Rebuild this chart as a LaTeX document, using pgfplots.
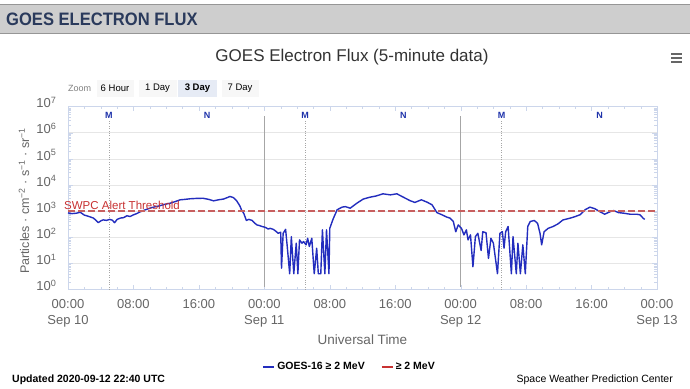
\documentclass[border=0pt]{standalone}
\usepackage{fontspec}
\setmainfont{Liberation Sans}
\usepackage{pgfplots}
\pgfplotsset{compat=1.18}
\definecolor{bannerbg}{RGB}{206,206,206}
\definecolor{bannerline}{RGB}{150,150,150}
\definecolor{bannertext}{RGB}{42,58,92}
\definecolor{txtgray}{RGB}{102,102,102}
\definecolor{seriesblue}{RGB}{35,45,190}
\definecolor{threshred}{RGB}{200,95,95}
\definecolor{labelred}{RGB}{200,50,50}
\definecolor{gridgray}{RGB}{230,230,230}
\definecolor{axisline}{RGB}{204,214,235}
\definecolor{btnbg}{RGB}{247,247,247}
\definecolor{btnsel}{RGB}{230,235,245}
\definecolor{mnblue}{RGB}{30,50,170}
\begin{document}
\begin{tikzpicture}
\path[use as bounding box, fill=white] (0pt,0pt) rectangle (690pt,388pt);
% banner
\fill[bannerbg] (0pt,355pt) rectangle (690pt,383pt);
\draw[bannerline, line width=1pt] (0pt,383pt) -- (690pt,383pt);
\draw[bannerline] (0pt,355pt) -- (690pt,355pt);
\node[anchor=west, inner sep=0pt, text=bannertext] at (6pt,369pt) {\scalebox{0.92}[1]{\fontsize{18}{20}\selectfont\bfseries GOES ELECTRON FLUX}};
% title
\node[text=black!80] at (352pt,331pt) {\fontsize{17}{20}\selectfont GOES Electron Flux (5-minute data)};
% menu
\foreach \yy in {326,330,334} \draw[txtgray, line width=1.5pt] (671pt,\yy pt) -- (682pt,\yy pt);
% zoom buttons
\node[anchor=west, text=black!50, inner sep=0pt] at (68pt,300pt) {\fontsize{9}{10}\selectfont Zoom};
\node[fill=btnbg, minimum width=37pt, minimum height=17pt, inner sep=0pt] at (115pt,299.5pt) {\fontsize{9.5}{10}\selectfont 6 Hour};
\node[fill=btnbg, minimum width=38pt, minimum height=17pt, inner sep=0pt] at (157.5pt,299.5pt) {\fontsize{9.5}{10}\selectfont 1 Day};
\node[fill=btnsel, minimum width=39pt, minimum height=17pt, inner sep=0pt] at (197.5pt,299.5pt) {\fontsize{9.5}{10}\selectfont\bfseries 3 Day};
\node[fill=btnbg, minimum width=37pt, minimum height=17pt, inner sep=0pt] at (240pt,299.5pt) {\fontsize{9.5}{10}\selectfont 7 Day};
% footer
\node[anchor=west, inner sep=0pt] at (12pt,8pt) {\fontsize{10.5}{12}\selectfont\bfseries Updated 2020-09-12 22:40 UTC};
\node[anchor=east, inner sep=0pt] at (673pt,8pt) {\fontsize{10.5}{12}\selectfont Space Weather Prediction Center};

\begin{axis}[
  at={(68pt,98.5pt)}, anchor=south west,
  scale only axis, width=589pt, height=183pt,
  xmin=0, xmax=72, ymode=log, ymin=1, ymax=1e7,
  clip=false,
  axis line style={axisline},
  xtick={0,8,...,72},
  xticklabels={{00:00\\Sep 10},{08:00},{16:00},{00:00\\Sep 11},{08:00},{16:00},{00:00\\Sep 12},{08:00},{16:00},{00:00\\Sep 13}},
  xticklabel style={align=center, font=\fontsize{13}{16}\selectfont, text=txtgray, yshift=-6pt},
  minor x tick num=3,
  ytick={1,10,100,1000,10000,100000,1000000,10000000},
  yticklabels={10\textsuperscript{0},10\textsuperscript{1},10\textsuperscript{2},10\textsuperscript{3},10\textsuperscript{4},10\textsuperscript{5},10\textsuperscript{6},10\textsuperscript{7}},
  yticklabel style={font=\fontsize{13}{15}\selectfont, text=txtgray, xshift=-8pt, yshift=4pt},
  ymajorgrids, major grid style={gridgray},
  tick style={axisline},
  major tick length=5pt, minor tick length=3pt,
  xlabel={Universal Time},
  xlabel style={at={(axis description cs:0.5,-0.273)}, anchor=center, font=\fontsize{13.5}{16}\selectfont, text=txtgray},
  ylabel={Particles · cm\textsuperscript{−2} · s\textsuperscript{−1} · sr\textsuperscript{−1}},
  ylabel style={at={(axis description cs:-0.0747,0.484)}, anchor=center, font=\fontsize{12.5}{15}\selectfont, text=txtgray},
  legend style={at={(0.478,-0.421)}, anchor=center, draw=none, fill=none, font=\fontsize{10.5}{12}\selectfont\bfseries, /tikz/every even column/.append style={column sep=14pt}},
  legend columns=2,
]
% day boundaries
\addplot[black!35, line width=1.4pt, forget plot] coordinates {(24,1.3) (24,4.5e6)};
\addplot[black!35, line width=1.4pt, forget plot] coordinates {(48,1.3) (48,4.5e6)};
% M / N lines
\addplot[black!35, dotted, forget plot] coordinates {(5,1) (5,2.7e6)};
\addplot[black!35, dotted, forget plot] coordinates {(29,1) (29,2.7e6)};
\addplot[black!35, dotted, forget plot] coordinates {(53,1) (53,2.7e6)};
\node[font=\fontsize{9}{10}\selectfont\bfseries, text=mnblue] at (axis cs:5,4.4e6) {M};
\node[font=\fontsize{9}{10}\selectfont\bfseries, text=mnblue] at (axis cs:17,4.4e6) {N};
\node[font=\fontsize{9}{10}\selectfont\bfseries, text=mnblue] at (axis cs:29,4.4e6) {M};
\node[font=\fontsize{9}{10}\selectfont\bfseries, text=mnblue] at (axis cs:41,4.4e6) {N};
\node[font=\fontsize{9}{10}\selectfont\bfseries, text=mnblue] at (axis cs:53,4.4e6) {M};
\node[font=\fontsize{9}{10}\selectfont\bfseries, text=mnblue] at (axis cs:65,4.4e6) {N};
% data
\addplot[seriesblue, line width=1.4pt, line join=round,
  legend image code/.code={\draw[seriesblue, solid, line width=2pt] (0pt,0pt) -- (11pt,0pt);}] coordinates {
(0,850) (0.5,800) (1.05,830) (1.5,900) (2.0,700) (2.3,660) (2.7,600) (3.1,540) (3.4,450) (3.7,360)
(4.0,420) (4.3,460) (4.7,440) (5.1,480) (5.4,450) (5.7,360) (6.0,480) (6.4,540) (6.8,560) (7.2,660)
(7.6,620) (8.0,720) (8.4,800) (8.8,930) (9.4,1100) (10.0,1290) (10.6,1450) (11.2,1590) (11.8,1800)
(12.5,2000) (13.1,2300) (13.7,2690) (14.3,2800) (14.9,2950) (15.7,3050) (16.5,3090) (17.2,2800)
(17.8,2460) (18.4,2700) (19.0,2880) (19.5,3300) (19.8,3630) (20.2,3300) (20.6,2510) (21.0,1600)
(21.2,1120) (21.5,800) (21.8,440) (22.1,480) (22.5,440) (22.8,350) (23.1,295) (23.4,280) (23.7,257)
(24.1,240) (24.5,204) (24.7,219) (25.1,200) (25.4,170) (25.7,141) (26.0,155) (26.1,6.5) (26.3,141)
(26.6,200) (26.8,44) (27.1,4) (27.3,105) (27.6,4) (27.9,59) (28.1,4) (28.3,79) (28.6,59) (28.8,68)
(29.1,51) (29.3,91) (29.5,44) (29.8,91) (30.1,4) (30.4,38) (30.6,4) (30.9,4) (31.1,191) (31.4,4)
(31.6,191) (31.9,4) (32.0,219) (32.4,490) (32.9,1122) (33.5,1413) (33.9,1479) (34.5,1288) (35.3,1995)
(36.1,2884) (36.9,3388) (37.7,3802) (38.5,4571) (39.4,4169) (40.2,4571) (41.0,3388) (41.8,2512)
(42.4,2138) (43.2,2692) (43.9,2188) (44.5,1738) (45.1,871) (45.7,724) (46.3,589) (46.7,537) (47.1,398)
(47.4,162) (47.7,295) (48.1,219) (48.4,123) (48.7,191) (48.9,79) (49.2,123) (49.5,7.4) (49.8,105)
(50.1,141) (50.5,31) (50.7,162) (51.1,148) (51.4,15.5) (51.7,91) (52.0,59) (52.5,4) (52.8,141)
(53.1,162) (53.3,38) (53.5,162) (53.8,257) (54.2,4) (54.4,105) (54.8,4) (55.0,59) (55.3,4) (55.6,51)
(55.9,4) (56.2,257) (56.5,398) (57.0,437) (57.4,339) (57.7,141) (57.9,51) (58.2,162) (58.7,219)
(59.3,257) (59.9,324) (60.5,457) (61.4,537) (62.0,617) (62.6,724) (63.2,1122) (63.8,1413) (64.4,1230)
(65.0,955) (65.6,759) (66.3,955) (66.7,1047) (67.3,871) (67.9,832) (68.7,759) (69.5,759) (69.9,724)
(70.3,537) (70.5,479)
};
\addlegendentry{GOES-16 ≥ 2 MeV}
\addplot[threshred, line width=2.4pt, dash pattern=on 7pt off 3pt,
  legend image code/.code={\draw[labelred, solid, line width=2pt] (0pt,0pt) -- (11pt,0pt);}] coordinates {(0,1000) (72,1000)};
\addlegendentry{≥ 2 MeV}
\node[anchor=west, inner sep=0pt, text=labelred, font=\fontsize{11.5}{13}\selectfont, xshift=-4pt] at (axis cs:0,1700) {SWPC Alert Threshold};
\end{axis}
\end{tikzpicture}
\end{document}
